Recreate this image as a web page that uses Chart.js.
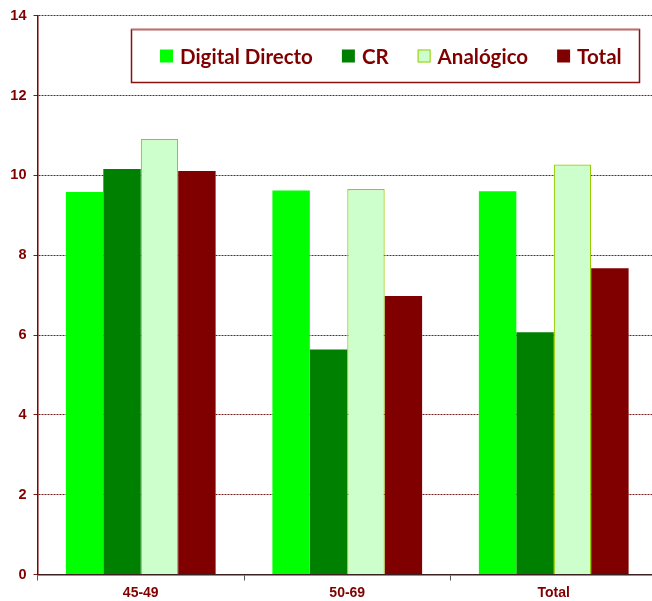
<!DOCTYPE html>
<html>
<head>
<meta charset="utf-8">
<script src="https://cdn.jsdelivr.net/npm/chart.js@4.4.0/dist/chart.umd.min.js"></script>
<style>
  html,body{margin:0;padding:0;background:#fff;overflow:hidden;}
  #wrap{width:657px;height:601px;position:relative;}
</style>
</head>
<body>
<div id="wrap"><canvas id="chart"></canvas></div>
<script>
/* ---------- Data ---------- */
const CATEGORIES = ['45-49', '50-69', 'Total'];
const SERIES_NAMES = ['Digital Directo', 'CR', 'Analógico', 'Total'];
const DIGITAL_DIRECTO = [9.58, 9.62, 9.60];
const CR_VALUES       = [10.16, 5.64, 6.07];
const ANALOGICO       = [10.91, 9.66, 10.27];
const TOTAL_VALUES    = [10.11, 6.98, 7.67];
const Y_TICKS = [0, 2, 4, 6, 8, 10, 12, 14];

const MAROON = '#800000';

/* ---------- Legend box inside plot ---------- */
const boxLegend = {
  id: 'boxLegend',
  afterDraw(chart){
    const ctx = chart.ctx;
    const bx = 131.5, by = 29.5, bw = 508, bh = 53;
    ctx.save();
    ctx.fillStyle = '#fff';
    ctx.fillRect(bx, by, bw, bh);
    ctx.lineWidth = 1.5;
    ctx.strokeStyle = '#8b1010';
    ctx.strokeRect(bx, by, bw, bh);
    ctx.strokeStyle = '#c07070';
    ctx.beginPath(); ctx.moveTo(bx, by); ctx.lineTo(bx+bw, by); ctx.stroke();

    ctx.font = 'bold 20.5px Lato';
    ctx.textBaseline = 'middle';
    let x = 160;
    const cy = 56;
    chart.data.datasets.forEach(ds=>{
      ctx.fillStyle = ds.backgroundColor;
      ctx.fillRect(x, cy-6.5, 13, 13);
      if(ds.borderWidth){
        ctx.lineWidth = 1;
        ctx.strokeStyle = ds.borderColor;
        ctx.strokeRect(x+0.5, cy-6, 12, 12);
      }
      ctx.fillStyle = MAROON;
      ctx.fillText(ds.label, x+20, cy+1);
      x += 20 + ctx.measureText(ds.label).width + 29;
    });
    ctx.restore();
  }
};

const ctx = document.getElementById('chart');
new Chart(ctx, {
  type: 'bar',
  data: {
    labels: CATEGORIES,
    datasets: [
      { label: SERIES_NAMES[0], data: DIGITAL_DIRECTO, backgroundColor: '#00ff00', borderWidth: 0 },
      { label: SERIES_NAMES[1], data: CR_VALUES,       backgroundColor: '#008000', borderWidth: 0 },
      { label: SERIES_NAMES[2], data: ANALOGICO,       backgroundColor: '#ccffcc', borderColor: '#99cc00', borderWidth: 1.2 },
      { label: SERIES_NAMES[3], data: TOTAL_VALUES,    backgroundColor: '#800000', borderWidth: 0 }
    ]
  },
  options: {
    responsive: true,
    maintainAspectRatio: false,
    animation: false,
    layout: { padding: { top: 15, right: 0, left: 0, bottom: 0 } },
    plugins: { legend: { display: false }, tooltip: { enabled: false } },
    datasets: { bar: { barPercentage: 1, categoryPercentage: 0.725 } },
    scales: {
      x: {
        grid: { display: true, drawOnChartArea: false, offset: true, tickLength: 6, color: '#555', lineWidth: 1 },
        border: { display: true, color: '#3a2020', width: 1.5 },
        ticks: { color: MAROON, font: { family: 'Liberation Sans', weight: 'bold', size: 14 }, padding: 4 },
        afterFit(s){ s.height = 26.5; }
      },
      y: {
        min: 0, max: 14,
        afterBuildTicks(s){ s.ticks = Y_TICKS.map(v=>({ value: v })); },
        grid: { color: '#7a1c1c', lineWidth: 1, tickLength: 4, tickColor: '#7a1c1c' },
        border: { display: true, color: MAROON, width: 1.5, dash: [2, 1] },
        ticks: { color: MAROON, font: { family: 'Liberation Sans', weight: 'bold', size: 14.5 }, padding: 7 },
        afterFit(s){ s.width = 37.5; }
      }
    }
  },
  plugins: [boxLegend]
});
</script>
</body>
</html>
